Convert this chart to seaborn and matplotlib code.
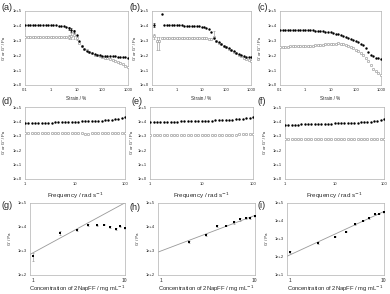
import numpy as np
import matplotlib
matplotlib.use("Agg")
import matplotlib.pyplot as plt
import seaborn as sns
from matplotlib.ticker import FixedLocator, FuncFormatter, NullLocator

nan = np.nan

# STRAIN SWEEPS (a)-(c)
strain = [0.1, 0.126, 0.158, 0.2, 0.251, 0.316, 0.398, 0.501, 0.631, 0.794,
          1, 1.26, 1.58, 2, 2.51, 3.16, 3.98, 5.01, 6.31, 7.94,
          10, 12.6, 15.8, 20, 25.1, 31.6, 39.8, 50.1, 63.1, 79.4,
          100, 126, 158, 200, 251, 316, 398, 501, 631, 794, 1000]

a_g1 = [11800, 11800, 11700, 11700, 11600, 11600, 11500, 11500, 11400, 11300,
        11200, 11000, 10700, 10300, 9800, 9000, 8000, 6800, 5500, 4300,
        2500, 900, 420, 260, 190, 160, 140, 125, 115, 105,
        98, 94, 91, 89, 87, 85, 83, 80, 77, 73, 70]
a_g2 = [1700, 1700, 1690, 1690, 1680, 1680, 1670, 1670, 1660, 1660,
        1650, 1650, 1640, 1630, 1620, 1620, 1650, 1800, 2100, 2300,
        1500, 700, 420, 290, 220, 170, 140, 115, 100, 88,
        78, 70, 62, 55, 48, 42, 36, 30, 25, 20, 16]

b_g1 = [nan, 11000, nan, nan, 62000, 10800, 10800, 10800, 10800, 10700,
        10700, 10600, 10500, 10400, 10300, 10200, 10000, 9800, 9500, 9100,
        8600, 8000, 7200, 6200, 4000, 1600, 1000, 750, 580, 460,
        370, 300, 240, 195, 155, 125, 105, 90, 82, 77, 75]
b_g2 = [nan, 1900, 1000, 1000, 1500, 1500, 1520, 1540, 1550, 1560,
        1570, 1580, 1590, 1600, 1600, 1600, 1600, 1590, 1580, 1560,
        1530, 1490, 1440, 1380, 1300, 1800, 900, 700, 560, 440,
        350, 280, 220, 175, 135, 105, 85, 68, 55, 46, 40]

c_g1 = [5200, 5200, 5200, 5200, 5150, 5150, 5100, 5100, 5050, 5000,
        5000, 4950, 4900, 4850, 4750, 4650, 4500, 4300, 4100, 3900,
        3600, 3300, 3000, 2700, 2400, 2100, 1800, 1550, 1300, 1100,
        900, 750, 620, 480, 330, 180, 110, 85, 70, 64, 60]
c_g2 = [380, 385, 390, 395, 400, 405, 410, 415, 420, 425,
        430, 440, 450, 460, 475, 490, 510, 530, 550, 570,
        590, 610, 630, 640, 630, 590, 520, 440, 370, 300,
        240, 190, 150, 110, 70, 40, 22, 13, 8.5, 6, 4.5]

# error bars on a few strain points: index -> (down, up)
a_err1 = {17: (1500, 1500), 18: (1500, 1500), 19: (1200, 1200)}
a_err2 = {17: (600, 700), 18: (900, 1200), 19: (1000, 1500), 20: (400, 500)}
b_err1 = {1: (3000, 4000)}
b_err2 = {1: (700, 900), 2: (750, 800), 3: (750, 700), 25: (600, 2500)}

# FREQUENCY SWEEPS (d)-(f)
freq = [1, 1.17, 1.36, 1.58, 1.85, 2.15, 2.51, 2.93, 3.41, 3.98, 4.64, 5.41,
        6.31, 7.36, 8.58, 10, 11.7, 13.6, 15.8, 18.5, 21.5, 25.1, 29.3, 34.1,
        39.8, 46.4, 54.1, 63.1, 73.6, 85.8, 100]

d_g1 = [7300, 7400, 7500, 7600, 7750, 7900, 8000, 8150, 8300, 8450, 8600,
        8800, 9000, 9150, 9300, 9500, 9700, 9900, 10100, 10300, 10500, 10700,
        11000, 11300, 11700, 12200, 12900, 13800, 15000, 16700, 19000]
d_g2 = [1600, 1600, 1590, 1590, 1580, 1580, 1570, 1570, 1560, 1560, 1550,
        1550, 1540, 1540, 1530, 1530, 1520, 1480, 1400, 1300, 1500, 1520,
        1530, 1540, 1550, 1560, 1570, 1580, 1590, 1600, 1620]

e_g1 = [8500, 8650, 8800, 8950, 9100, 9250, 9400, 9550, 9700, 9850, 10000,
        10150, 10300, 10450, 10600, 10800, 11000, 11200, 11400, 11600, 11800,
        12100, 12400, 12800, 13200, 13800, 14500, 15500, 16800, 18500, 21000]
e_g2 = [1050, 1060, 1070, 1080, 1090, 1100, 1110, 1120, 1130, 1140, 1150,
        1160, 1170, 1180, 1190, 1200, 1200, 1210, 1210, 1220, 1220, 1220,
        1230, 1230, 1230, 1230, 1240, 1240, 1240, 1240, 1250]

f_g1 = [5600, 5700, 5800, 5900, 6000, 6100, 6200, 6300, 6400, 6500, 6600,
        6700, 6800, 6900, 7050, 7200, 7350, 7500, 7650, 7800, 7950, 8100,
        8300, 8500, 8800, 9200, 9700, 10400, 11300, 12600, 14500]
f_g2 = [600, 600, 600, 605, 605, 605, 610, 610, 610, 615, 615,
        615, 620, 620, 620, 620, 625, 625, 625, 625, 630, 630,
        630, 630, 635, 635, 635, 640, 640, 640, 640]

# CONCENTRATION DEPENDENCE (g)-(i)
conc = [1, 2, 3, 4, 5, 6, 7, 8, 9, 10]
g_g1 = [590, 5500, 7700, 12600, 11800, 12600, 10000, 8200, 10700, 9300]
g_err = [210, 1000, 600, 1200, 900, 900, 700, 500, 600, 700]
g_fit_x = [0.93, 10.1]
g_fit_y = [720, 102000]

h_conc = [2, 3, 4, 5, 6, 7, 8, 9, 10]
h_g1 = [2400, 4700, 10700, 11400, 16000, 21000, 24000, 24000, 29000]
h_err = [300, 500, 900, 800, 2500, 3000, 1500, 1500, 2000]
h_fit_x = [0.93, 10.1]
h_fit_y = [900, 30500]

i_g1 = [190, 620, 1350, 2600, 6800, 10500, 15000, 23000, 26000, 32000]
i_err = [20, 60, 120, 250, 600, 900, 1500, 1800, 2000, 2500]
i_fit_x = [0.93, 10.1]
i_fit_y = [110, 34000]

sns.set_style("white")
plt.rcParams['font.family'] = ['Liberation Sans', 'DejaVu Sans']

W, H = 390, 294
fig = plt.figure(figsize=(W / 100, H / 100), dpi=100)


def add_panel(x0, y0, x1, y1):
    # pixel box -> figure fraction
    return fig.add_axes([x0 / W, 1 - y1 / H, (x1 - x0) / W, (y1 - y0) / H])


def style_ax(ax, xlim, ylim, xticks):
    ax.set_xscale('log')
    ax.set_yscale('log')
    ax.set_xlim(xlim)
    ax.set_ylim(ylim)
    ax.xaxis.set_major_locator(FixedLocator(xticks))
    ax.xaxis.set_minor_locator(NullLocator())
    ax.xaxis.set_major_formatter(FuncFormatter(lambda v, p: f"{v:g}"))
    lo, hi = int(round(np.log10(ylim[0]))), int(round(np.log10(ylim[1])))
    ax.yaxis.set_major_locator(FixedLocator([10.0 ** k for k in range(lo, hi + 1)]))
    ax.yaxis.set_minor_locator(NullLocator())
    ax.yaxis.set_major_formatter(FuncFormatter(lambda v, p: f"1e+{int(round(np.log10(v)))}"))
    ax.tick_params(labelsize=3, length=1.2, width=0.4, color='#999999', pad=1)
    for s in ax.spines.values():
        s.set_color('#b0b0b0')
        s.set_linewidth(0.5)


def sweep(ax, x, g1, g2, err1=None, err2=None):
    for errs, g, col in [(err1, g1, 'black'), (err2, g2, '#8c8c8c')]:
        if errs:
            idx = list(errs.keys())
            ax.errorbar([x[i] for i in idx], [g[i] for i in idx],
                        yerr=[[errs[i][0] for i in idx], [errs[i][1] for i in idx]],
                        fmt='none', ecolor=col, elinewidth=0.4, capsize=0.8, capthick=0.4)
    sns.scatterplot(x=x, y=g2, ax=ax, marker='o', s=3, facecolor='white',
                    edgecolor='#8c8c8c', linewidth=0.4, zorder=3)
    sns.scatterplot(x=x, y=g1, ax=ax, marker='o', s=3, color='black',
                    linewidth=0, zorder=4)


def conc_plot(ax, x, g, err, fx, fy):
    sns.lineplot(x=fx, y=fy, ax=ax, color='#999999', linewidth=0.6)
    ax.errorbar(x, g, yerr=err, fmt='none', ecolor='#888888',
                elinewidth=0.4, capsize=0.8, capthick=0.4)
    sns.scatterplot(x=x, y=g, ax=ax, marker='s', s=4, color='black',
                    linewidth=0, zorder=4)


# top row: strain sweeps
boxes_top = [(25, 11, 128, 85), (152, 11, 251, 85), (280, 11, 381, 85)]
top_data = [(a_g1, a_g2, a_err1, a_err2), (b_g1, b_g2, b_err1, b_err2),
            (c_g1, c_g2, None, None)]
for box, (g1, g2, e1, e2), pad in zip(boxes_top, top_data, [5, 2, 4]):
    ax = add_panel(*box)
    sweep(ax, strain, g1, g2, e1, e2)
    style_ax(ax, (0.1, 1000), (1, 1e5), [0.1, 1, 10, 100, 1000])
    ax.set_xlabel('Strain / %', fontsize=3.3, labelpad=3)
    ax.set_ylabel("G' or G'' / Pa", fontsize=3, labelpad=pad)

# middle row: frequency sweeps
boxes_mid = [(25, 107, 125, 179), (150, 107, 253, 179), (285, 107, 384, 179)]
mid_data = [(d_g1, d_g2), (e_g1, e_g2), (f_g1, f_g2)]
for box, (g1, g2), pad in zip(boxes_mid, mid_data, [5, 3, 4]):
    ax = add_panel(*box)
    sweep(ax, freq, g1, g2)
    style_ax(ax, (1, 100), (1, 1e5), [1, 10, 100])
    ax.set_xlabel('Frequency / rad s$^{-1}$', fontsize=4.5, labelpad=3)
    ax.set_ylabel("G' or G'' / Pa", fontsize=3, labelpad=pad)

# bottom row: concentration dependence
boxes_bot = [(30, 203, 125, 275), (158, 203, 255, 275), (287, 203, 384, 275)]
bot_data = [(conc, g_g1, g_err, g_fit_x, g_fit_y, (100, 1e5)),
            (h_conc, h_g1, h_err, h_fit_x, h_fit_y, (100, 1e5)),
            (conc, i_g1, i_err, i_fit_x, i_fit_y, (10, 1e5))]
for box, (x, g, err, fx, fy, yl) in zip(boxes_bot, bot_data):
    ax = add_panel(*box)
    conc_plot(ax, x, g, err, fx, fy)
    style_ax(ax, (0.93, 10.1), yl, [1, 10])
    ax.tick_params(axis='x', labelsize=3.5)
    ax.set_xlabel('Concentration of 2NapFF / mg mL$^{-1}$', fontsize=4.2, labelpad=0.5)
    ax.set_ylabel("G' / Pa", fontsize=3, labelpad=4)

# panel letters
letters = [('(a)', 1, 7), ('(b)', 130, 7), ('(c)', 257, 7),
           ('(d)', 1, 101), ('(e)', 131, 101), ('(f)', 258, 101),
           ('(g)', 1, 205), ('(h)', 130, 207), ('(i)', 257, 206)]
for txt, px, py in letters:
    fig.text(px / W, 1 - py / H, txt, fontsize=6.5, ha='left', va='center')

fig.savefig('out.png', dpi=100)
